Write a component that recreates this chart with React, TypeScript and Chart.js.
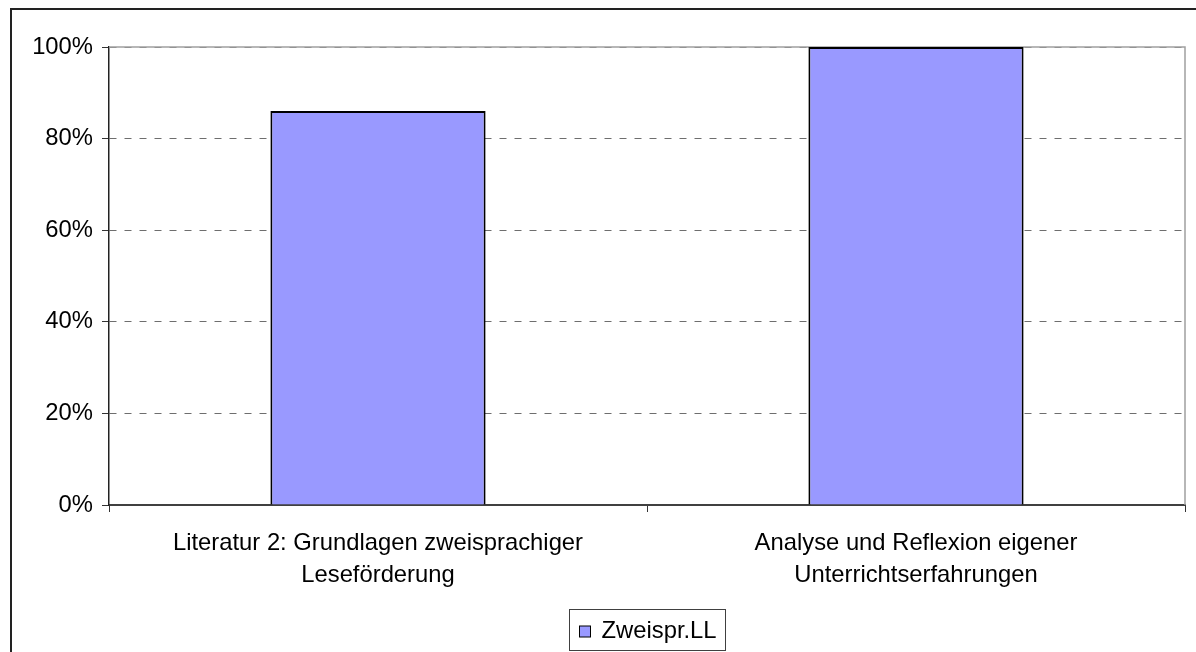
import React, { useEffect, useRef } from "react";
import { Chart, registerables } from "chart.js";

Chart.register(...registerables);

const categories: string[][] = [
  ["Literatur 2: Grundlagen zweisprachiger", "Leseförderung"],
  ["Analyse und Reflexion eigener", "Unterrichtserfahrungen"],
];
const seriesLabel = "Zweispr.LL";
const seriesValues = [86, 100];
const yTickValues = [0, 20, 40, 60, 80, 100];

const FONT_FAMILY = '"Liberation Sans", Arial, sans-serif';
const FONT_SIZE = 23.8;
const BAR_COLOR = "#9999FF";

const plotBorderPlugin = {
  id: "plotBorder",
  beforeDatasetsDraw(chart: any) {
    const { ctx, chartArea } = chart;
    ctx.save();
    ctx.strokeStyle = "#a0a0a0";
    ctx.lineWidth = 1.5;
    ctx.beginPath();
    ctx.moveTo(chartArea.left, chartArea.top);
    ctx.lineTo(chartArea.right, chartArea.top);
    ctx.lineTo(chartArea.right, chartArea.bottom);
    ctx.stroke();
    ctx.restore();
  },
};

const boxLegendPlugin = {
  id: "boxLegend",
  afterDraw(chart: any) {
    const { ctx, chartArea } = chart;
    const ds = chart.data.datasets[0];
    ctx.save();
    ctx.font = `${FONT_SIZE}px ${FONT_FAMILY}`;
    const tw = ctx.measureText(ds.label).width;
    const sq = 11;
    const padL = 10;
    const gap = 11;
    const padR = 9;
    const boxW = Math.round(padL + sq + gap + tw + padR);
    const boxH = 41;
    const cx = (chartArea.left + chartArea.right) / 2;
    const bx = Math.round(cx - boxW / 2) + 0.5;
    const by = chart.height - 43 + 0.5;
    ctx.fillStyle = "#ffffff";
    ctx.fillRect(bx, by, boxW, boxH);
    ctx.strokeStyle = "#404040";
    ctx.lineWidth = 1;
    ctx.strokeRect(bx, by, boxW, boxH);
    const sy = Math.round(by + boxH / 2 + 1 - sq / 2);
    ctx.fillStyle = ds.backgroundColor;
    ctx.fillRect(bx + padL, sy, sq, sq);
    ctx.strokeStyle = "#000";
    ctx.strokeRect(bx + padL, sy, sq, sq);
    ctx.fillStyle = "#000";
    ctx.textBaseline = "middle";
    ctx.textAlign = "left";
    ctx.fillText(ds.label, bx + padL + sq + gap, by + boxH / 2 + 1);
    ctx.restore();
  },
};

export default function App() {
  const ref = useRef<HTMLCanvasElement | null>(null);
  useEffect(() => {
    if (!ref.current) return;
    const chart = new Chart(ref.current, {
      type: "bar",
      data: {
        labels: categories,
        datasets: [
          {
            label: seriesLabel,
            data: seriesValues,
            backgroundColor: BAR_COLOR,
            borderColor: "#000000",
            borderWidth: 2,
            barPercentage: 0.4,
            categoryPercentage: 1,
          },
        ],
      },
      options: {
        animation: false,
        responsive: false,
        devicePixelRatio: 1,
        layout: { padding: { top: 37, right: 11, bottom: 47, left: 0 } },
        plugins: {
          legend: { display: false },
          tooltip: { enabled: false },
        },
        scales: {
          x: {
            afterFit: (s: any) => {
              s.height = 100;
            },
            grid: {
              display: true,
              drawOnChartArea: false,
              drawTicks: true,
              tickLength: 7,
              tickColor: "#333333",
              tickWidth: 1,
              offset: true,
            },
            border: { display: true, color: "#404040", width: 2 },
            ticks: {
              color: "#000",
              padding: 15,
              maxRotation: 0,
              autoSkip: false,
              font: { family: FONT_FAMILY, size: FONT_SIZE, lineHeight: 32 / FONT_SIZE },
            },
          },
          y: {
            min: 0,
            max: 100,
            afterFit: (s: any) => {
              s.width = 97;
            },
            afterBuildTicks: (s: any) => {
              s.ticks = yTickValues.map((v) => ({ value: v }));
            },
            grid: {
              color: "#6e6e6e",
              lineWidth: 1,
              tickLength: 7,
              tickColor: "#333333",
              tickWidth: 1,
              tickBorderDash: [],
              borderDash: [7, 8],
            } as any,
            border: { display: true, color: "#222222", width: 1.5, dash: [7, 8] } as any,
            ticks: {
              color: "#000",
              padding: 9,
              font: { family: FONT_FAMILY, size: FONT_SIZE },
              callback: (v: any) => `${v}%`,
            },
          },
        },
      },
      plugins: [plotBorderPlugin, boxLegendPlugin],
    });
    return () => chart.destroy();
  }, []);

  return (
    <div
      style={{
        position: "absolute",
        left: 10,
        top: 8,
        width: 1186,
        height: 644,
        boxSizing: "border-box",
        borderTop: "2px solid #222",
        borderLeft: "2px solid #222",
        background: "#fff",
      }}
    >
      <canvas ref={ref} width={1184} height={642} style={{ display: "block" }} />
    </div>
  );
}
